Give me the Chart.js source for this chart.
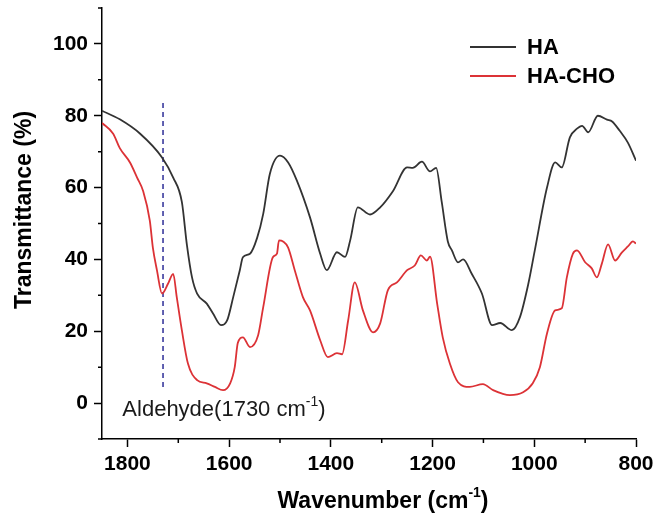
<!DOCTYPE html>
<html>
<head>
<meta charset="utf-8">
<script src="https://cdn.jsdelivr.net/npm/chart.js@4/dist/chart.umd.min.js"></script>
<style>
  html, body { margin: 0; padding: 0; background: #fff; }
  canvas { display: block; }
</style>
</head>
<body>
<canvas id="ftir" width="656" height="517"></canvas>
<script>
// FTIR spectra (wavenumber in cm-1, transmittance in %)
const haWave = [1850, 1815, 1775, 1732, 1710, 1693, 1683, 1673, 1663, 1644, 1632, 1616, 1604, 1592, 1579, 1573,
  1559, 1545, 1533, 1520, 1500, 1484, 1467, 1441, 1421, 1408, 1388, 1372, 1362, 1347, 1323, 1303, 1278, 1250,
  1239, 1221, 1205, 1193, 1182, 1170, 1162, 1150, 1140, 1123, 1103, 1083, 1067, 1044, 1028, 1012, 999, 975,
  959, 946, 930, 916, 906, 894, 875, 857, 847, 832, 816, 800];
const haT = [81.4, 79, 75, 68.4, 62.8, 56, 44, 35, 30.5, 27.7, 25, 21.7, 23, 29.5, 37, 40.6,
  41.6, 46, 52.7, 63.8, 68.9, 67, 62, 51.7, 41.6, 37, 42, 40.7, 45.3, 54.5, 52.5, 54.5, 59, 65.6,
  65.5, 67.2, 64.5, 65.5, 56, 45, 42.5, 39.2, 40, 36, 30.5, 21.7, 22.3, 20.3, 24, 33, 42.5, 60,
  67, 65.6, 74, 76.4, 77.2, 75.4, 80, 78.9, 78.4, 75.8, 72.5, 67.5];

const choWave = [1850, 1828, 1815, 1795, 1781, 1769, 1756, 1750, 1742, 1732, 1720, 1710, 1703, 1693, 1681,
  1663, 1644, 1628, 1612, 1598, 1589, 1583, 1573, 1559, 1543, 1533, 1514, 1506, 1502, 1494, 1484, 1471,
  1455, 1441, 1421, 1406, 1388, 1378, 1366, 1353, 1337, 1317, 1303, 1288, 1270, 1250, 1235, 1223, 1211,
  1205, 1191, 1180, 1166, 1150, 1127, 1101, 1081, 1048, 1022, 1003, 989, 975, 959, 946, 936, 924, 916,
  900, 887, 877, 867, 855, 841, 828, 816, 806, 800];
const choT = [78, 75, 71, 67, 62.8, 59, 50.8, 43.3, 37, 30.5, 33.3, 36, 29.5, 20.3, 11,
  6.4, 5.5, 4.5, 3.6, 5.5, 10, 16.7, 18.3, 15.6, 18.9, 26.7, 40.6, 41.6, 45.3, 45, 43.3, 37,
  29.5, 25.8, 17.5, 12.8, 13.9, 13.6, 23, 33.6, 25.8, 19.7, 22.2, 31.4, 33.6, 37, 38.3, 41.1, 39.7,
  40.8, 27.7, 18.3, 11, 5.8, 4.5, 5.3, 3.6, 2.2, 3, 5.5, 10, 19.4, 25.8, 26.4, 35, 41.6, 42.5,
  39.2, 37.5, 35, 38.9, 44.2, 39.7, 41.9, 43.6, 45, 44.4];

// aldehyde marker (dashed vertical line)
const markerWave = [1730, 1730];
const markerT = [4.5, 84];

const seriesNames = ['HA', 'HA-CHO'];
const xTicks = [1800, 1600, 1400, 1200, 1000, 800];
const yTicks = [0, 20, 40, 60, 80, 100];

const toPts = (xs, ys) => xs.map((x, i) => ({x: x, y: ys[i]}));
const FONT = '"Liberation Sans", Arial, sans-serif';

// titles, legend, annotation and minor ticks
const decor = {
  id: 'decor',
  afterDraw(chart) {
    const c = chart.ctx, xs = chart.scales.x, ys = chart.scales.y;
    c.save();
    // minor ticks
    c.strokeStyle = '#000'; c.lineWidth = 1.5;
    c.beginPath();
    for (let v = 1700; v >= 900; v -= 200) {
      const px = xs.getPixelForValue(v);
      c.moveTo(px, xs.top); c.lineTo(px, xs.top + 4);
    }
    for (let v = -10; v <= 110; v += 20) {
      const py = ys.getPixelForValue(v);
      c.moveTo(ys.right, py); c.lineTo(ys.right - 4, py);
    }
    c.stroke();

    // axis titles
    c.fillStyle = '#000';
    c.font = 'bold 23px ' + FONT;
    c.textBaseline = 'middle';
    c.textAlign = 'center';
    c.save();
    c.translate(25, 210);
    c.rotate(-Math.PI / 2);
    c.fillText('Transmittance (%)', 0, 0);
    c.restore();

    const drawSup = (base, sup, tail, x, y, size, weight, align) => {
      c.font = weight + size + 'px ' + FONT;
      const wb = c.measureText(base).width, wt = c.measureText(tail).width;
      c.font = weight + Math.round(size * 0.62) + 'px ' + FONT;
      const ws = c.measureText(sup).width;
      let x0 = align === 'center' ? x - (wb + ws + wt) / 2 : x;
      c.textAlign = 'left';
      c.font = weight + size + 'px ' + FONT;
      c.fillText(base, x0, y);
      c.font = weight + Math.round(size * 0.62) + 'px ' + FONT;
      c.fillText(sup, x0 + wb, y - size * 0.38);
      c.font = weight + size + 'px ' + FONT;
      c.fillText(tail, x0 + wb + ws, y);
    };
    drawSup('Wavenumber (cm', '-1', ')', 383, 502, 23, 'bold ', 'center');

    // aldehyde label
    c.fillStyle = '#1a1a1a';
    drawSup('Aldehyde(1730 cm', '-1', ')', xs.getPixelForValue(1810), ys.getPixelForValue(-2), 22, '', 'left');

    // legend
    const ds = chart.data.datasets;
    c.font = 'bold 22px ' + FONT;
    c.textAlign = 'left';
    seriesNames.forEach((name, i) => {
      const y = 47 + i * 29;
      c.strokeStyle = ds[i].borderColor; c.lineWidth = 2;
      c.beginPath(); c.moveTo(470, y); c.lineTo(516, y); c.stroke();
      c.fillStyle = '#000';
      c.fillText(name, 527, y + 1);
    });
    c.restore();
  }
};

new Chart(document.getElementById('ftir'), {
  type: 'line',
  data: {
    datasets: [
      {label: seriesNames[0], data: toPts(haWave, haT), borderColor: '#333333', borderWidth: 1.8,
       pointRadius: 0, cubicInterpolationMode: 'monotone'},
      {label: seriesNames[1], data: toPts(choWave, choT), borderColor: '#dc3236', borderWidth: 1.8,
       pointRadius: 0, cubicInterpolationMode: 'monotone'},
      {label: 'marker', data: toPts(markerWave, markerT), borderColor: '#3b3b9e', borderWidth: 1.6,
       borderDash: [5, 4], pointRadius: 0}
    ]
  },
  options: {
    responsive: false,
    animation: false,
    layout: {padding: {left: 0, top: 8, right: 20, bottom: 0}},
    plugins: {legend: {display: false}, tooltip: {enabled: false}},
    scales: {
      x: {
        type: 'linear', reverse: true, min: 800, max: 1850,
        afterBuildTicks: s => { s.ticks = xTicks.map(v => ({value: v})); },
        afterFit: s => { s.height = 78; s.paddingLeft = 0; s.paddingRight = 0; },
        border: {display: true, color: '#000', width: 1.5},
        grid: {display: true, drawOnChartArea: false, drawTicks: true, tickLength: 8, tickColor: '#000', tickWidth: 1.5},
        ticks: {color: '#000', font: {family: FONT, size: 21, weight: 'bold'}, padding: 5, maxRotation: 0,
                callback: v => String(v)}
      },
      y: {
        type: 'linear', min: -10, max: 110,
        afterBuildTicks: s => { s.ticks = yTicks.map(v => ({value: v})); },
        afterFit: s => { s.width = 102; s.paddingTop = 0; s.paddingBottom = 0; },
        border: {display: true, color: '#000', width: 1.5},
        grid: {display: true, drawOnChartArea: false, drawTicks: true, tickLength: 8, tickColor: '#000', tickWidth: 1.5},
        ticks: {color: '#000', font: {family: FONT, size: 21, weight: 'bold'}, padding: 6,
                callback: v => String(v)}
      }
    }
  },
  plugins: [decor]
});
</script>
</body>
</html>
